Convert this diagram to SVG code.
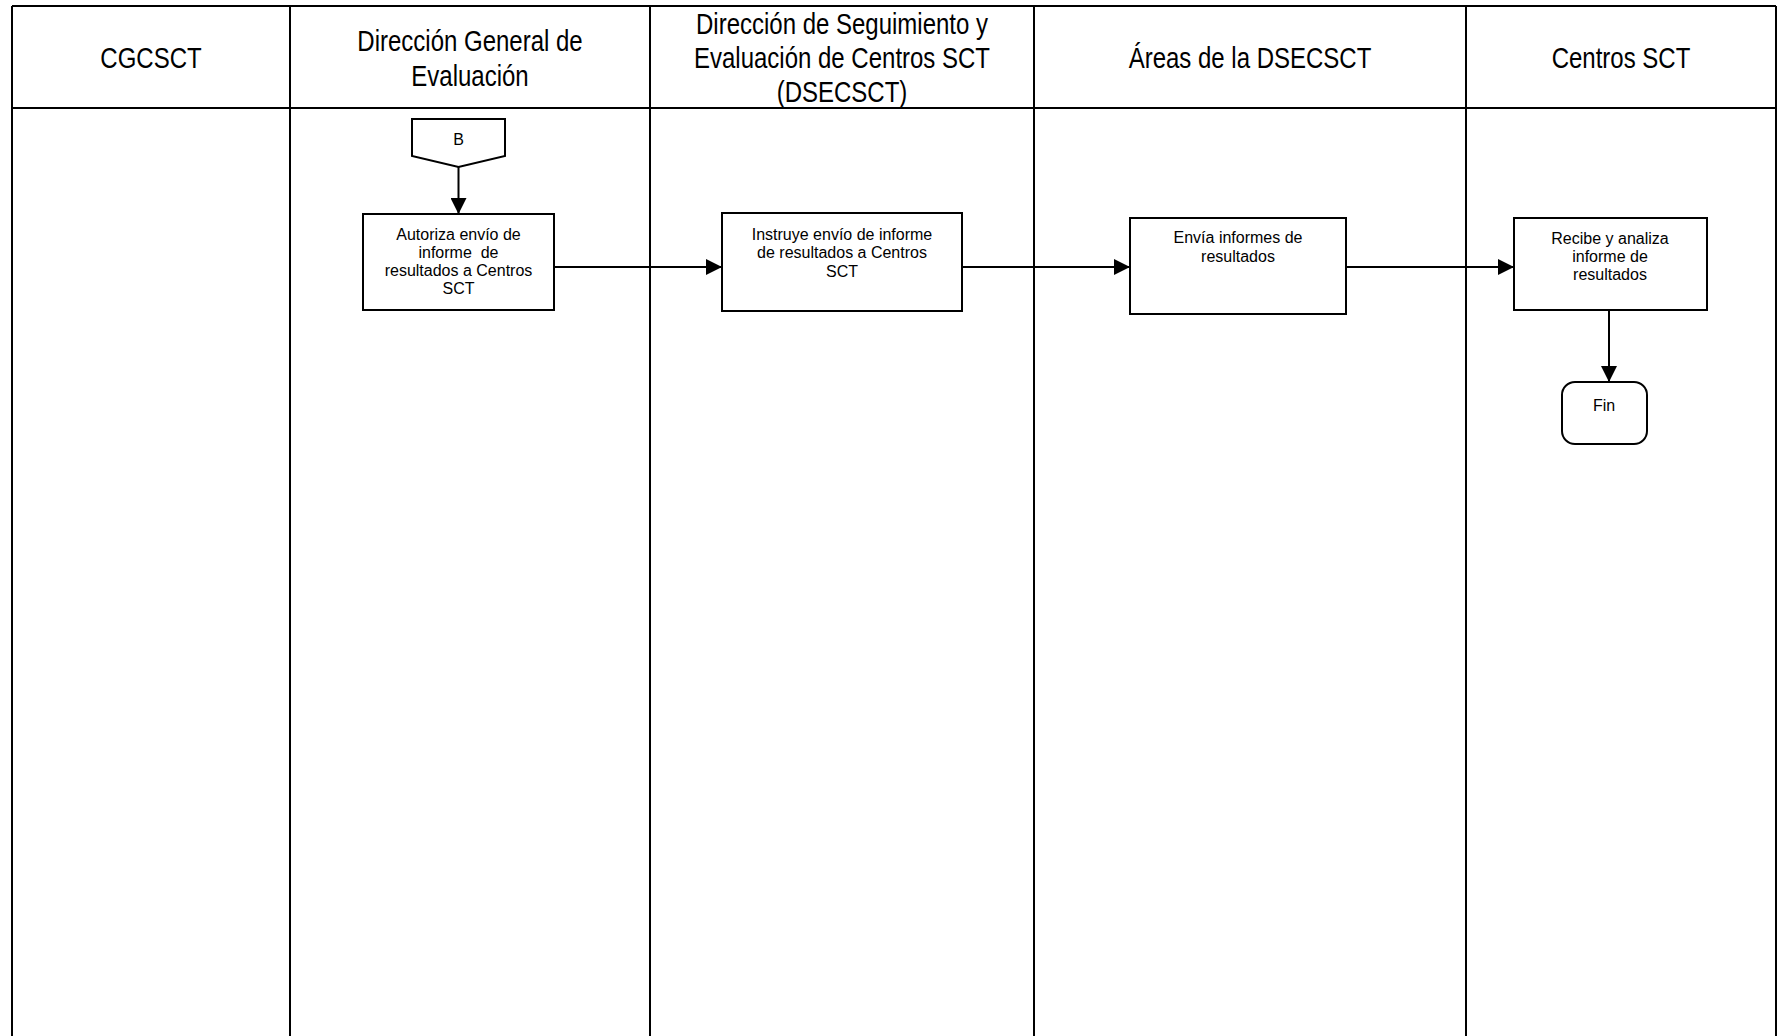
<svg xmlns="http://www.w3.org/2000/svg" width="1778" height="1036" viewBox="0 0 1778 1036">
<defs>
<style>
.lane{stroke:#000;stroke-width:2;fill:none}
.hdr{font-family:"Liberation Sans",Arial,sans-serif;font-size:30px;fill:#000;text-anchor:middle}
.box{fill:#fff;stroke:#000;stroke-width:2}
.lbl{font-family:"Liberation Sans",Arial,sans-serif;font-size:16px;fill:#000;text-anchor:middle}
.conn{stroke:#000;stroke-width:2;fill:none;marker-end:url(#ah)}
</style>
<marker id="ah" markerUnits="userSpaceOnUse" markerWidth="16" markerHeight="16" refX="16" refY="8" orient="auto">
<path d="M0,0 L16,8 L0,16 z" fill="#000"/>
</marker>
</defs>
<rect width="1778" height="1036" fill="#fff"/>
<g id="lanes">
<path class="lane" d="M12,6 H1776 M12,108 H1776 M12,6 V1036 M290,6 V1036 M650,6 V1036 M1034,6 V1036 M1466,6 V1036 M1776,6 V1036"/>
<g class="hdr">
<text transform="translate(151,68) scale(0.8,1)">CGCSCT</text>
<text transform="translate(470,51) scale(0.8,1)">Dirección General de</text>
<text transform="translate(470,86) scale(0.8,1)">Evaluación</text>
<text transform="translate(842,34) scale(0.8,1)">Dirección de Seguimiento y</text>
<text transform="translate(842,68) scale(0.8,1)">Evaluación de Centros SCT</text>
<text transform="translate(842,102) scale(0.8,1)">(DSECSCT)</text>
<text transform="translate(1250,68) scale(0.8,1)">Áreas de la DSECSCT</text>
<text transform="translate(1621,68) scale(0.8,1)">Centros SCT</text>
</g>
</g>
<g id="connectors">
<line class="conn" x1="458.5" y1="167" x2="458.5" y2="214"/>
<line class="conn" x1="554" y1="267" x2="722" y2="267"/>
<line class="conn" x1="962" y1="267" x2="1130" y2="267"/>
<line class="conn" x1="1346" y1="267" x2="1514" y2="267"/>
<line class="conn" x1="1609" y1="310" x2="1609" y2="382"/>
</g>
<g id="node-B">
<polygon class="box" points="412,119 505,119 505,156 458.5,167 412,156"/>
<text class="lbl" x="458.5" y="145">B</text>
</g>
<g id="node-autoriza">
<rect class="box" x="363" y="214" width="191" height="96"/>
<text class="lbl" x="458.5" y="240">Autoriza envío de</text>
<text class="lbl" x="458.5" y="258" xml:space="preserve">informe  de</text>
<text class="lbl" x="458.5" y="276">resultados a Centros</text>
<text class="lbl" x="458.5" y="294">SCT</text>
</g>
<g id="node-instruye">
<rect class="box" x="722" y="213" width="240" height="98"/>
<text class="lbl" x="842" y="240">Instruye envío de informe</text>
<text class="lbl" x="842" y="258">de resultados a Centros</text>
<text class="lbl" x="842" y="277">SCT</text>
</g>
<g id="node-envia">
<rect class="box" x="1130" y="218" width="216" height="96"/>
<text class="lbl" x="1238" y="243">Envía informes de</text>
<text class="lbl" x="1238" y="262">resultados</text>
</g>
<g id="node-recibe">
<rect class="box" x="1514" y="218" width="193" height="92"/>
<text class="lbl" x="1610" y="244">Recibe y analiza</text>
<text class="lbl" x="1610" y="262">informe de</text>
<text class="lbl" x="1610" y="280">resultados</text>
</g>
<g id="node-fin">
<rect class="box" x="1562" y="382" width="85" height="62" rx="13" ry="13"/>
<text class="lbl" x="1604" y="411">Fin</text>
</g>
</svg>
